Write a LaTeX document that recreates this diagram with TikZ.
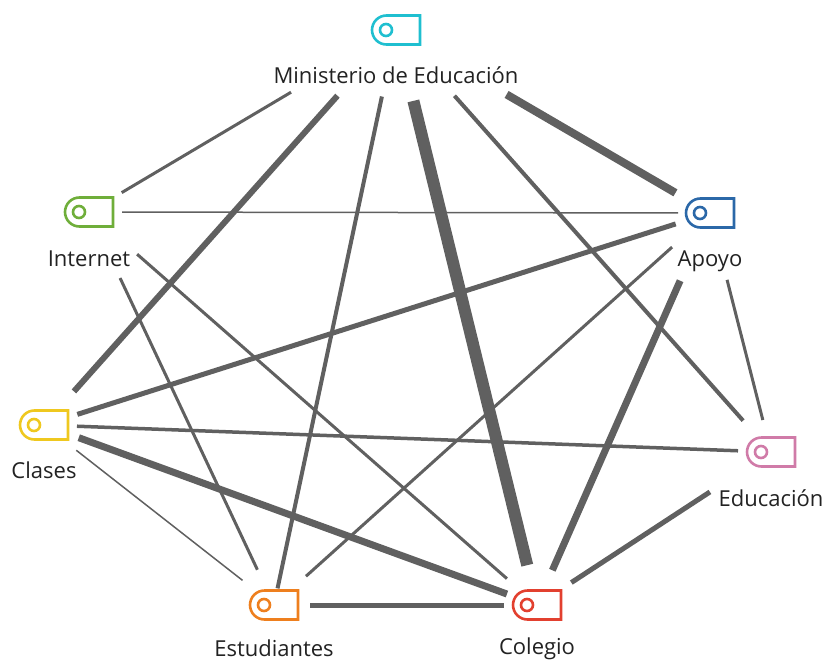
\documentclass[tikz,border=0pt]{standalone}
\usepackage{fontspec}
\setmainfont{Open Sans}
\usetikzlibrary{shapes.misc}
\definecolor{edgegray}{HTML}{606060}
\definecolor{textgray}{HTML}{222222}
\definecolor{mincolor}{HTML}{1FBFD0}
\definecolor{intcolor}{HTML}{6FAE3A}
\definecolor{apocolor}{HTML}{2B68A8}
\definecolor{clacolor}{HTML}{EFC81F}
\definecolor{educolor}{HTML}{D07BA8}
\definecolor{estcolor}{HTML}{EE7F1E}
\definecolor{colcolor}{HTML}{E2402F}
\tikzset{
    tagbox/.style={draw, line width=2.6pt, rounded rectangle, rounded rectangle right arc=none, rounded rectangle arc length=180, minimum width=48pt, minimum height=29pt, inner sep=0pt},
    tagring/.style={draw, circle, line width=2.6pt, minimum size=12pt, inner sep=0pt},
    tagtext/.style={text=textgray, font=\fontsize{22}{26}\selectfont, inner sep=0pt, anchor=base},
    link/.style={edgegray, line cap=butt}
}
\begin{document}
\begin{tikzpicture}[x=1pt, y=-1pt]
    \useasboundingbox (0, 0) rectangle (824, 661);

    \foreach \name/\x/\y/\c/\txt/\ty in {min/396/30/mincolor/Ministerio de Educación/83, int/89/212/intcolor/Internet/266, apo/710/213/apocolor/Apoyo/266, cla/44/425/clacolor/Clases/478, edu/771/452/educolor/Educación/506, est/274/605/estcolor/Estudiantes/656, col/537/605/colcolor/Colegio/654.5} {
        \node[tagbox, draw=\c] (\name) at (\x, \y) {};
        \node[tagring, draw=\c] (\name ring) at (\x-10, \y) {};
        \node[tagtext] (\name text) at (\x, \ty) {\txt};
    }

    % from / to / width / gap at from / gap at to
    \foreach \a/\b/\w/\s/\t in {min/int/3/122/38, min/cla/6/88/45, min/est/4/68/17, min/col/12/73/41, min/edu/4/88/42, min/apo/8/128/40,
        int/apo/1.5/33/32, int/est/3/73/39, int/col/3/64/40,
        apo/cla/5/36/35, apo/est/3/51/43, apo/col/7/74/38, apo/edu/3/69/33,
        cla/edu/3.5/33/33, cla/est/1.5/41/40, cla/col/7/37/32,
        edu/col/5/73/41, est/col/5/36/33} {
        \draw[link, line width=\w pt, shorten <=\s pt, shorten >=\t pt] (\a.center) -- (\b.center);
    }
\end{tikzpicture}
\end{document}
